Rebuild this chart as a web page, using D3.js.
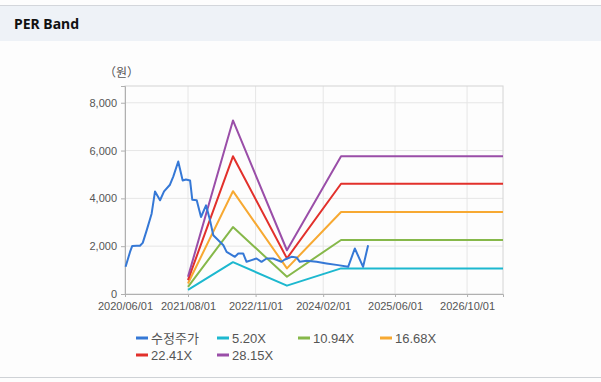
<!DOCTYPE html>
<html>
<head>
<meta charset="utf-8">
<script src="https://cdn.jsdelivr.net/npm/d3@7"></script>
<style>
  body { margin: 0; background: #fdfdfd; font-family: "Liberation Sans", "Noto Sans CJK KR", sans-serif; }
  svg { display: block; }
</style>
</head>
<body>
<svg id="chart" width="601" height="382"></svg>
<script>
// 수정주가 (날짜, 원)
const priceDates = ["2020-06-05","2020-07-05","2020-07-20","2020-08-20","2020-09-10","2020-09-29","2020-10-26","2020-11-28","2020-12-21","2021-01-24","2021-02-20","2021-04-01","2021-04-24","2021-05-27","2021-06-26","2021-07-18","2021-08-15","2021-08-30","2021-09-29","2021-10-28","2021-12-01","2021-12-28","2022-01-19","2022-03-28","2022-04-19","2022-06-14","2022-07-07","2022-08-09","2022-09-01","2022-10-05","2022-11-07","2022-12-11","2023-01-14","2023-02-28","2023-04-25","2023-05-18","2023-07-02","2023-08-05","2023-08-27","2023-10-12","2023-12-18","2024-02-24","2024-05-12","2024-07-19","2024-09-02","2024-10-28","2024-12-01"];
const priceValues = [1140,1760,2010,2020,2020,2140,2670,3360,4290,3920,4290,4570,4920,5540,4750,4790,4750,3940,3920,3220,3710,3080,2460,2040,1760,1555,1694,1694,1347,1417,1486,1347,1486,1486,1347,1444,1555,1528,1347,1389,1347,1278,1208,1138,1902,1138,2042];

// PER 밴드
const bandDates = ["2021-08-01","2022-06-01","2023-06-01","2024-06-01","2027-06-01"];
const band520 = [170, 1330, 350, 1070, 1070];
const band1094 = [300, 2800, 720, 2260, 2260];
const band1668 = [440, 4300, 1070, 3430, 3430];
const band2241 = [580, 5760, 1490, 4610, 4610];
const band2815 = [720, 7260, 1830, 5760, 5760];

const xTicks = ["2020-06-01","2021-08-01","2022-11-01","2024-02-01","2025-06-01","2026-10-01"];
const yTicks = [0, 2000, 4000, 6000, 8000];

const parse = d3.timeParse("%Y-%m-%d");

const series = [
  {name: "수정주가", color: "#3578d6", dates: priceDates, values: priceValues},
  {name: "5.20X", color: "#1db8cf", dates: bandDates, values: band520},
  {name: "10.94X", color: "#86b84a", dates: bandDates, values: band1094},
  {name: "16.68X", color: "#f7a932", dates: bandDates, values: band1668},
  {name: "22.41X", color: "#e2302b", dates: bandDates, values: band2241},
  {name: "28.15X", color: "#9a4ea8", dates: bandDates, values: band2815}
];

const svg = d3.select("#chart");

// 헤더
svg.append("rect").attr("x", 0).attr("y", 5).attr("width", 601).attr("height", 1).attr("fill", "#d3d6db");
svg.append("rect").attr("x", 0).attr("y", 6).attr("width", 601).attr("height", 35).attr("fill", "#eef2f7");
svg.append("text").attr("x", 14).attr("y", 29)
  .attr("font-size", 14).attr("font-weight", "bold").attr("fill", "#111")
  .attr("font-family", "'Noto Sans', 'Liberation Sans', sans-serif")
  .text("PER Band");
svg.append("rect").attr("x", 0).attr("y", 377).attr("width", 601).attr("height", 1).attr("fill", "#cfd2d6");

const pLeft = 125, pRight = 503, pTop = 86, pBottom = 294;

const x = d3.scaleTime()
  .domain([parse("2020-06-01"), parse("2027-06-01")])
  .range([pLeft, pRight]);
const y = d3.scaleLinear().domain([0, 8700]).range([pBottom, pTop]);

// 그리드
svg.append("g").selectAll("line").data(yTicks.slice(1)).join("line")
  .attr("x1", pLeft).attr("x2", pRight)
  .attr("y1", d => y(d)).attr("y2", d => y(d))
  .attr("stroke", "#e6e6e6");
svg.append("g").selectAll("line").data(xTicks.slice(1)).join("line")
  .attr("x1", d => x(parse(d))).attr("x2", d => x(parse(d)))
  .attr("y1", pTop).attr("y2", pBottom)
  .attr("stroke", "#e6e6e6");

// 테두리
svg.append("rect").attr("x", pLeft).attr("y", pTop)
  .attr("width", pRight - pLeft).attr("height", pBottom - pTop)
  .attr("fill", "none").attr("stroke", "#d4d4d4");

// 축
const yAxis = svg.append("g").attr("transform", `translate(${pLeft},0)`)
  .call(d3.axisLeft(y).tickValues(yTicks).tickSize(4).tickPadding(4).tickFormat(d3.format(",")));
const xAxis = svg.append("g").attr("transform", `translate(0,${pBottom})`)
  .call(d3.axisBottom(x).tickValues(xTicks.map(parse)).tickSize(3).tickPadding(5).tickFormat(d3.timeFormat("%Y/%m/%d")));
[yAxis, xAxis].forEach(a => {
  a.select(".domain").attr("stroke", "#b0b0b0");
  a.selectAll(".tick line").attr("stroke", "#b0b0b0");
  a.selectAll("text").attr("fill", "#555").attr("font-size", 11)
    .attr("font-family", "'Liberation Sans', sans-serif");
});

svg.append("text").attr("x", 104).attr("y", 77)
  .attr("font-size", 12).attr("fill", "#555")
  .attr("font-family", "'Noto Sans CJK KR', sans-serif")
  .text("（원）");

// 선
const line = d3.line()
  .x(d => x(d[0]))
  .y(d => y(d[1]));

svg.append("g").selectAll("path").data(series.slice(1).concat([series[0]])).join("path")
  .attr("d", s => line(s.dates.map((d, i) => [parse(d), s.values[i]])))
  .attr("fill", "none")
  .attr("stroke", s => s.color)
  .attr("stroke-width", 2)
  .attr("stroke-linejoin", "round");

// 범례
const legX = [136, 217, 298, 380];
const leg = svg.append("g").selectAll("g").data(series).join("g")
  .attr("transform", (s, i) => `translate(${legX[i % 4]},${i < 4 ? 338 : 355})`);
leg.append("rect").attr("x", 0).attr("y", -1.5).attr("width", 12).attr("height", 3).attr("fill", s => s.color);
leg.append("text").attr("x", 15).attr("y", 4.5)
  .attr("font-size", 13).attr("fill", "#555")
  .attr("font-family", "'Liberation Sans', 'Noto Sans CJK KR', sans-serif")
  .text(s => s.name);
</script>
</body>
</html>
